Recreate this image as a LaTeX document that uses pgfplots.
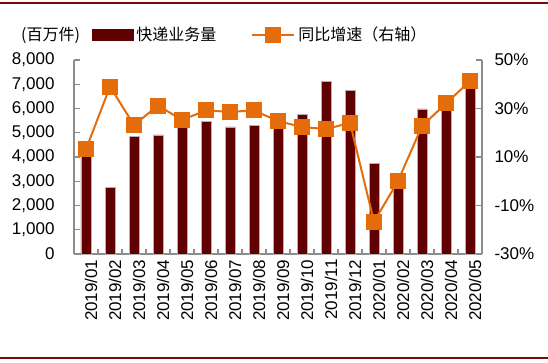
\documentclass[border=0pt]{standalone}
\usepackage{fontspec}
\setmainfont{Liberation Sans}
\newfontfamily\cjk{Noto Sans CJK SC}
\usepackage{pgfplots}
\pgfplotsset{compat=1.18}
\definecolor{barred}{HTML}{600000}
\definecolor{lineor}{HTML}{E46C0A}
\definecolor{axgray}{HTML}{8C8C8C}
\definecolor{deco}{HTML}{7A0A0A}
\pgfplotsset{
  mylegline/.style={legend image code/.code={\draw[mark repeat=2, mark phase=2, ##1] plot coordinates {(0pt,0pt) (21pt,0pt) (42pt,0pt)};}},
  mylegbar/.style={legend image code/.code={\fill[barred] (0pt,-5.5pt) rectangle (41pt,5.5pt);}},
}
\pgfplotstableread{
x vol yoy
0 4100 13.2
1 2750 39.0
2 4850 23.2
3 4910 31.2
4 5250 25.3
5 5460 29.2
6 5240 28.6
7 5290 29.2
8 5300 24.8
9 5760 22.4
10 7120 21.5
11 6735 24.1
12 3740 -16.7
13 2950 0.1
14 5980 22.8
15 6300 32.1
16 7000 41.3
}\datatab
\begin{document}
\fontsize{16pt}{19pt}\selectfont
\begin{tikzpicture}
\useasboundingbox (0pt,0pt) rectangle (548pt,362pt);
\draw[deco, line width=2pt] (0pt,359pt) -- (548pt,359pt);
\draw[deco, line width=2pt] (0pt,4pt) -- (548pt,4pt);
\node[anchor=west, inner sep=0pt, font=\cjk\fontsize{16pt}{19pt}\selectfont] at (21pt,327pt) {(百万件)};
\begin{axis}[at={(74pt,108pt)}, anchor=south west, width=408pt, height=194pt, scale only axis,
  xmin=-0.5, xmax=16.5, ymin=0, ymax=8000,
  axis x line*=bottom, axis y line*=left,
  axis line style={axgray, line width=1.5pt, -},
  ytick={0,1000,...,8000},
  yticklabel style={/pgf/number format/fixed, /pgf/number format/1000 sep={,}, /pgf/number format/assume math mode=true, font=\fontsize{17pt}{19pt}\selectfont, xshift=-14pt},
  xtick={0,...,16},
  xticklabels={2019/01,2019/02,2019/03,2019/04,2019/05,2019/06,2019/07,2019/08,2019/09,2019/10,2019/11,2019/12,2020/01,2020/02,2020/03,2020/04,2020/05},
  xticklabel style={rotate=90, anchor=east, font=\fontsize{17pt}{19pt}\selectfont, yshift=-5pt},
  minor xtick={0.5,1.5,...,15.5},
  x tick style={draw=none}, minor x tick style={draw=axgray, line width=1.2pt},
  minor tick length=5pt,
  y tick style={axgray, line width=1.2pt}, major tick length=6pt,
  tick align=inside,
  clip=false,
]
\addplot[ybar, bar width=10pt, fill=barred, draw=gray!60, line width=0.5pt] table[x=x, y=vol] {\datatab};
\end{axis}
\begin{axis}[at={(74pt,108pt)}, anchor=south west, width=408pt, height=194pt, scale only axis,
  xmin=-0.5, xmax=16.5, ymin=-30, ymax=50,
  axis x line=none, axis y line*=right,
  axis line style={axgray, line width=1.5pt, -},
  ytick={-30,-10,10,30,50},
  yticklabel={\pgfmathprintnumber[assume math mode=true]{\tick}\%},
  yticklabel style={font=\fontsize{17pt}{19pt}\selectfont, xshift=7pt},
  y tick style={axgray, line width=1.2pt}, major tick length=6pt,
  tick align=inside,
  legend style={at={(0.044,1.129)}, anchor=west, draw=none, fill=none, legend columns=2,
    inner sep=0pt, outer sep=0pt, font=\cjk\fontsize{16pt}{19pt}\selectfont,
    nodes={inner sep=3pt},
    /tikz/every even column/.append style={column sep=32pt}},
  legend cell align=left,
  clip=false,
]
\addlegendimage{mylegbar}
\addlegendentry{快递业务量}
\addplot[lineor, line width=2pt, mark=square*, mark size=7pt, mark options={fill=lineor, draw=lineor}, mylegline]
  table[x=x, y=yoy] {\datatab};
\addlegendentry{同比增速（右轴）}
\end{axis}
\end{tikzpicture}
\end{document}
